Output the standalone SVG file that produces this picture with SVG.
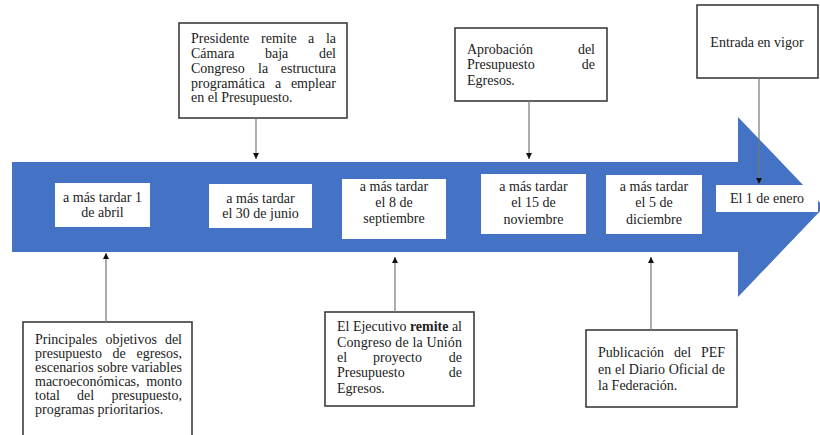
<svg xmlns="http://www.w3.org/2000/svg" width="820" height="435" viewBox="0 0 820 435">
<defs>
<style>
text{font-family:"Liberation Serif","Times New Roman",serif;font-size:14px;fill:#222}
.c{text-anchor:middle}
.e{text-anchor:end}
.box{fill:#fff;stroke:#3c3c3c;stroke-width:1.6}
.ib{fill:#fff}
.con{stroke:#777;stroke-width:1.2;fill:none}
</style>
<marker id="ah" viewBox="0 0 10 10" refX="10" refY="5" markerWidth="6" markerHeight="6" markerUnits="userSpaceOnUse" orient="auto">
<path d="M0,0 L10,5 L0,10 Z" fill="#111"/>
</marker>
</defs>
<rect width="820" height="435" fill="#fff"/>
<g id="timeline-arrow">
<polygon points="12,162 738,162 738,117 824,207 738,297 738,252 12,252" fill="#4472C4"/>
</g>
<g id="d1"><rect class="ib" x="55" y="183" width="95" height="44"/>
<text class="c" x="102.5" y="202">a más tardar 1</text><text class="c" x="102.5" y="217">de abril</text></g>
<g id="d2"><rect class="ib" x="209" y="184" width="103" height="44"/>
<text class="c" x="260.5" y="203">a más tardar</text><text class="c" x="260.5" y="218">el 30 de junio</text></g>
<g id="d3"><rect class="ib" x="342" y="179" width="104" height="60"/>
<text class="c" x="394" y="191">a más tardar</text><text class="c" x="394" y="207">el 8 de</text><text class="c" x="394" y="223">septiembre</text></g>
<g id="d4"><rect class="ib" x="481" y="174" width="105" height="60"/>
<text class="c" x="533.5" y="191">a más tardar</text><text class="c" x="533.5" y="207">el 15 de</text><text class="c" x="533.5" y="224">noviembre</text></g>
<g id="d5"><rect class="ib" x="606" y="175" width="96" height="59"/>
<text class="c" x="654" y="191">a más tardar</text><text class="c" x="654" y="207">el 5 de</text><text class="c" x="654" y="224">diciembre</text></g>
<g id="d6"><rect class="ib" x="716" y="185" width="102" height="27"/>
<text class="c" x="767" y="203">El 1 de enero</text></g>

<g id="nA"><rect class="box" x="179" y="23" width="168" height="95"/>
<text y="43"><tspan x="191">Presidente</tspan><tspan x="261">remite</tspan><tspan x="308">a</tspan></text><text class="e" x="336" y="43">la</text>
<text y="58"><tspan x="191">Cámara</tspan><tspan x="265">baja</tspan></text><text class="e" x="336" y="58">del</text>
<text y="73"><tspan x="191">Congreso</tspan><tspan x="258">la</tspan></text><text class="e" x="336" y="73">estructura</text>
<text y="88"><tspan x="191">programática</tspan><tspan x="275">a</tspan></text><text class="e" x="336" y="88">emplear</text>
<text x="191" y="102">en el Presupuesto.</text></g>

<g id="nB"><rect class="box" x="455" y="28" width="152" height="73"/>
<text x="467" y="54">Aprobación</text><text class="e" x="595" y="54">del</text>
<text x="467" y="69">Presupuesto</text><text class="e" x="595" y="69">de</text>
<text x="467" y="85">Egresos.</text></g>

<g id="nC"><rect class="box" x="697" y="5" width="121" height="73"/>
<text class="c" x="757" y="47">Entrada en vigor</text></g>

<g id="nD"><rect class="box" x="23" y="322" width="169" height="120"/>
<text y="344"><tspan x="35">Principales</tspan><tspan x="105.5">objetivos</tspan></text><text class="e" x="182" y="344">del</text>
<text y="358"><tspan x="35">presupuesto</tspan><tspan x="112.5">de</tspan></text><text class="e" x="182" y="358">egresos,</text>
<text x="35" y="372" textLength="147" lengthAdjust="spacingAndGlyphs">escenarios sobre variables</text>
<text x="35" y="386">macroeconómicas,</text><text class="e" x="182" y="386">monto</text>
<text y="400"><tspan x="35">total</tspan><tspan x="77">del</tspan></text><text class="e" x="182" y="400">presupuesto,</text>
<text x="35" y="414">programas prioritarios.</text></g>

<g id="nE"><rect class="box" x="325" y="312" width="149" height="94"/>
<text x="337" y="331" textLength="125" lengthAdjust="spacingAndGlyphs">El Ejecutivo <tspan font-weight="bold">remite</tspan> al</text>
<text x="337" y="347" textLength="125" lengthAdjust="spacing">Congreso de la Unión</text>
<text y="362"><tspan x="337">el</tspan><tspan x="373">proyecto</tspan></text><text class="e" x="462" y="362">de</text>
<text x="337" y="377">Presupuesto</text><text class="e" x="462" y="377">de</text>
<text x="337" y="393">Egresos.</text></g>

<g id="nF"><rect class="box" x="586" y="330" width="151" height="77"/>
<text y="357"><tspan x="598">Publicación</tspan><tspan x="674">del</tspan></text><text class="e" x="725" y="357">PEF</text>
<text x="598" y="374" textLength="127" lengthAdjust="spacing">en el Diario Oficial de</text>
<text x="598" y="390">la Federación.</text></g>

<g id="connectors">
<line class="con" x1="256" y1="118" x2="256" y2="159" marker-end="url(#ah)"/>
<line class="con" x1="529" y1="101" x2="529" y2="159" marker-end="url(#ah)"/>
<line class="con" x1="759" y1="78" x2="759" y2="184" marker-end="url(#ah)"/>
<line class="con" x1="106" y1="322" x2="106" y2="253" marker-end="url(#ah)"/>
<line class="con" x1="395" y1="312" x2="395" y2="257" marker-end="url(#ah)"/>
<line class="con" x1="651" y1="330" x2="651" y2="257" marker-end="url(#ah)"/>
</g>
</svg>
